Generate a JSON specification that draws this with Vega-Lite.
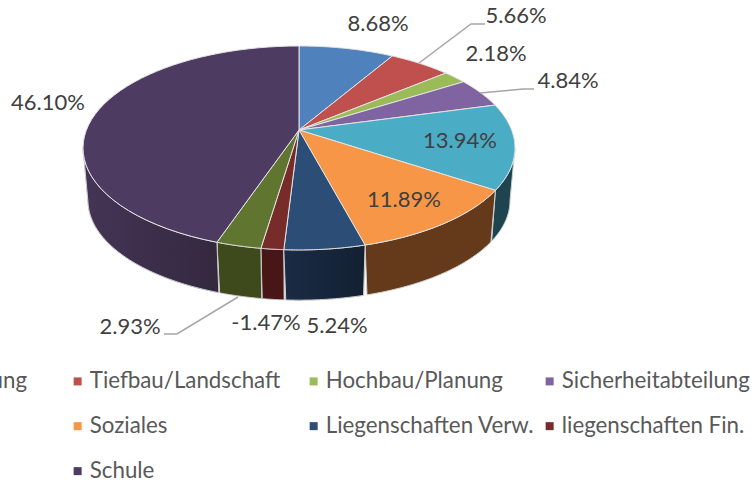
{
"$schema":"https://vega.github.io/schema/vega-lite/v6.json",
"width":755,"height":485,"padding":0,"autosize":{"type":"none"},
"background":"white",
"config":{"view":{"stroke":null},"font":"Lato"},
"data":{"values":[
{"category":"Finanzverwaltung","share":8.68},
{"category":"Tiefbau/Landschaft","share":5.66},
{"category":"Hochbau/Planung","share":2.18},
{"category":"Sicherheitabteilung","share":4.84},
{"category":"Kultur","share":13.94},
{"category":"Soziales","share":11.89},
{"category":"Liegenschaften Verw.","share":5.24},
{"category":"liegenschaften Fin.","share":-1.47},
{"category":"Sonstiges","share":2.93},
{"category":"Schule","share":46.10}
]},
"transform":[
{"calculate":"abs(datum.share)","as":"size"},
{"window":[{"op":"sum","field":"size","as":"cum"}]},
{"joinaggregate":[{"op":"sum","field":"size","as":"total"}]},
{"calculate":"2*PI*(datum.cum-datum.size)/datum.total","as":"start"},
{"calculate":"2*PI*datum.cum/datum.total","as":"end"}
],
"encoding":{
"x":{"field":"X","type":"quantitative","scale":{"domain":[-299,456],"nice":false,"zero":false},"axis":null},
"y":{"field":"Y","type":"quantitative","scale":{"domain":[-355,130],"nice":false,"zero":false},"axis":null}
},
"layer":[
{
"transform":[
{"calculate":"max(datum.start,1.747)","as":"s2"},
{"calculate":"min(datum.end,4.536)","as":"e2"},
{"filter":"datum.s2<datum.e2"},
{"calculate":"sequence(0,2.03,0.02)","as":"t"},
{"flatten":["t"]},
{"calculate":"datum.t>2?0:datum.t","as":"p"},
{"calculate":"datum.s2+(datum.e2-datum.s2)*(datum.p<=1?datum.p:2-datum.p)","as":"th"},
{"calculate":"212.6*sin(datum.th)/(1+0.176*cos(datum.th))*(datum.p<=1?1:0.977)","as":"X"},
{"calculate":"98.8*cos(datum.th)/(1+0.176*cos(datum.th))*(datum.p<=1?1:0.977)-(datum.p<=1?0:53)","as":"Y"}
],
"layer":[
{
"mark":{"type":"line","strokeWidth":1,"stroke":"#d0d0d0","clip":false},
"encoding":{
"order":{"field":"t","type":"quantitative"},
"fill":{"field":"category","type":"nominal","legend":null,"scale":{
"domain":["Finanzverwaltung","Tiefbau/Landschaft","Hochbau/Planung","Sicherheitabteilung","Kultur","Soziales","Liegenschaften Verw.","liegenschaften Fin.","Sonstiges","Schule"],
"range":["#2f4d71","#733130","#5d7035","#4d3c61","#1d444f","#643a1a","#16263c","#481616","#3e4a1c","#3b2d4b"]}}
}
},
{
"transform":[{"filter":"datum.category==='Schule'"}],
"mark":{"type":"line","strokeWidth":1,"stroke":"#d0d0d0","clip":false,"fill":{"gradient":"linear","x1":0,"y1":0,"x2":1,"y2":0,"stops":[{"offset":0,"color":"#443556"},{"offset":1,"color":"#34283f"}]}},
"encoding":{"order":{"field":"t","type":"quantitative"}}
},
{
"transform":[{"filter":"datum.category==='Liegenschaften Verw.'"}],
"mark":{"type":"line","strokeWidth":1,"stroke":"#d0d0d0","clip":false,"fill":{"gradient":"linear","x1":0,"y1":0,"x2":1,"y2":0,"stops":[{"offset":0,"color":"#1a2b45"},{"offset":1,"color":"#122031"}]}},
"encoding":{"order":{"field":"t","type":"quantitative"}}
}
]
},
{
"transform":[
{"calculate":"sequence(-0.02,1.03,0.02)","as":"t"},
{"flatten":["t"]},
{"calculate":"datum.start+(datum.end-datum.start)*clamp(datum.t,0,1)","as":"th"},
{"calculate":"datum.t<0||datum.t>1?0:212.6*sin(datum.th)/(1+0.176*cos(datum.th))","as":"X"},
{"calculate":"datum.t<0||datum.t>1?0:98.8*cos(datum.th)/(1+0.176*cos(datum.th))","as":"Y"}
],
"mark":{"type":"line","strokeWidth":1,"stroke":"#e4e4e4","clip":false},
"encoding":{
"order":{"field":"t","type":"quantitative"},
"fill":{"field":"category","type":"nominal","scale":{
"domain":["Finanzverwaltung","Tiefbau/Landschaft","Hochbau/Planung","Sicherheitabteilung","Kultur","Soziales","Liegenschaften Verw.","liegenschaften Fin.","Sonstiges","Schule"],
"range":["#4f81bd","#c0504d","#9bbb59","#8064a2","#4bacc6","#f79646","#2c4d75","#772c2a","#5f7530","#4d3b62"]},
"legend":{"orient":"none","direction":"horizontal","legendX":-169.5,"legendY":370,"columns":4,"title":null,"symbolType":"square","symbolSize":64,"symbolStrokeWidth":0,"labelFont":"Lato","labelFontSize":22.3,"labelColor":"#595959","labelOffset":1,"labelLimit":300,"gridAlign":"all","columnPadding":4,"rowPadding":22}}
}
},
{
"transform":[
{"filter":"indexof(['Tiefbau/Landschaft','Sicherheitabteilung','Sonstiges'],datum.category)>=0"},
{"calculate":"[0,1,2]","as":"k"},
{"flatten":["k"]},
{"calculate":"({'Tiefbau/Landschaft':[120,172,186],'Sicherheitabteilung':[181,224,235],'Sonstiges':[-61,-122,-135]})[datum.category][datum.k]","as":"X"},
{"calculate":"({'Tiefbau/Landschaft':[67,106,106],'Sicherheitabteilung':[37,41,41],'Sonstiges':[-167,-204,-204]})[datum.category][datum.k]","as":"Y"}
],
"mark":{"type":"line","strokeWidth":1.5,"stroke":"#a6a6a6","clip":false},
"encoding":{
"order":{"field":"k","type":"quantitative"},
"detail":{"field":"category","type":"nominal"}
}
},
{
"transform":[
{"calculate":"({'Finanzverwaltung':79,'Tiefbau/Landschaft':217,'Hochbau/Planung':197,'Sicherheitabteilung':269,'Kultur':161,'Soziales':105,'Liegenschaften Verw.':38,'liegenschaften Fin.':-33,'Sonstiges':-169,'Schule':-251})[datum.category]","as":"X"},
{"calculate":"({'Finanzverwaltung':106,'Tiefbau/Landschaft':114,'Hochbau/Planung':76,'Sicherheitabteilung':49,'Kultur':-11,'Soziales':-70,'Liegenschaften Verw.':-196,'liegenschaften Fin.':-193,'Sonstiges':-197,'Schule':27})[datum.category]","as":"Y"},
{"calculate":"replace(format(datum.share,'.2f'),'\u2212','-')+'%'","as":"label"}
],
"mark":{"type":"text","font":"Lato","fontSize":22,"color":"#404040","align":"center","baseline":"middle","clip":false},
"encoding":{
"text":{"field":"label","type":"nominal"}
}
}
],
"resolve":{"scale":{"fill":"independent"}}
}
